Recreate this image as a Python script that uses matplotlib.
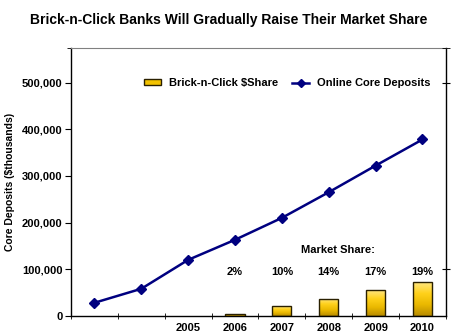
import numpy as np
import matplotlib
matplotlib.use("Agg")
import matplotlib.pyplot as plt
from matplotlib.lines import Line2D
from matplotlib.patches import Rectangle
from matplotlib.ticker import FuncFormatter, FixedLocator

plt.rcParams['font.family'] = ['Liberation Sans', 'DejaVu Sans']
plt.rcParams['font.weight'] = 'bold'

years = ['', '', '2005', '2006', '2007', '2008', '2009', '2010']
deposits = [28000, 58000, 120000, 163000, 210000, 265000, 322000, 378000]
share_years = ['2006', '2007', '2008', '2009', '2010']
share_dollars = [3000, 21000, 37000, 55000, 72000]
share_pct = ['2%', '10%', '14%', '17%', '19%']

fig = plt.figure(figsize=(4.64, 3.36), dpi=100)
ax = fig.add_axes([0.153, 0.06, 0.808, 0.797])

x = np.arange(len(years))
ymax = 574000
ax.set_xlim(-0.5, len(years) - 0.5)
ax.set_ylim(0, ymax)

# gold bars with a vertical gradient
grad = np.linspace(0, 1, 64).reshape(-1, 1)
cmap = matplotlib.colors.LinearSegmentedColormap.from_list(
    'gold', ['#b88c00', '#eab800', '#ffd11a', '#ffe680'])
bw = 0.41
for yr, val in zip(share_years, share_dollars):
    xi = years.index(yr)
    rect = Rectangle((xi - bw / 2, 0), bw, val, facecolor='none',
                     edgecolor='#2a2000', linewidth=1.0, zorder=3)
    ax.add_patch(rect)
    im = ax.imshow(grad, extent=(xi - bw / 2, xi + bw / 2, 0, val),
                   origin='lower', cmap=cmap, aspect='auto', zorder=2)
    im.set_clip_path(rect)

ax.plot(x, deposits, color='#000080', linewidth=1.8, marker='D',
        markersize=5, zorder=4)

# market share annotations
ax.text(5.2, 142000, 'Market Share:', ha='center', va='center', fontsize=8)
for yr, pct in zip(share_years, share_pct):
    xi = years.index(yr)
    ax.text(xi, 95000, pct, ha='center', va='center', fontsize=8)

ax.set_xticks(x)
ax.set_xticklabels(years, fontsize=8)
ax.xaxis.set_minor_locator(FixedLocator(np.arange(-0.5, len(years), 1.0)))
ax.tick_params(axis='x', which='major', length=0, pad=5)
ax.tick_params(axis='x', which='minor', direction='inout', length=5)

ax.set_yticks(np.arange(0, 500001, 100000))
ax.yaxis.set_major_formatter(FuncFormatter(lambda v, p: f'{int(v):,}'))
ax.yaxis.set_minor_locator(FixedLocator([ymax]))
ax.tick_params(axis='y', labelsize=8, length=4, direction='out', pad=2)
ax.tick_params(axis='y', which='minor', direction='inout', length=6)
ax.set_ylabel('Core Deposits ($thousands)', fontsize=7.5, fontweight='bold',
              labelpad=5)

for s in ('left', 'bottom', 'right'):
    ax.spines[s].set_color('black')
    ax.spines[s].set_linewidth(1.0)
ax.spines['top'].set_color('#808080')

# ticks on the right spine
ax2 = ax.twinx()
ax2.set_ylim(ax.get_ylim())
ax2.set_yticks([100000, 500000])
ax2.set_yticklabels([])
ax2.yaxis.set_minor_locator(FixedLocator([ymax]))
ax2.tick_params(axis='y', which='both', direction='inout', length=6)
for s in ax2.spines.values():
    s.set_visible(False)

# legend
handles = [Rectangle((0, 0), 1, 1, facecolor='#f2c200', edgecolor='#2a2000'),
           Line2D([], [], color='#000080', marker='D', markersize=4, linewidth=1.8)]
ax.legend(handles, ['Brick-n-Click $Share', 'Online Core Deposits'],
          loc='upper right', bbox_to_anchor=(0.985, 0.925), ncol=2, frameon=False,
          fontsize=8, handlelength=1.5, handleheight=0.5, columnspacing=1.3,
          handletextpad=0.7)

fig.suptitle('Brick-n-Click Banks Will Gradually Raise Their Market Share',
             fontsize=10, fontweight='bold', x=0.493, y=0.96)

fig.savefig('out.png', dpi=100)
